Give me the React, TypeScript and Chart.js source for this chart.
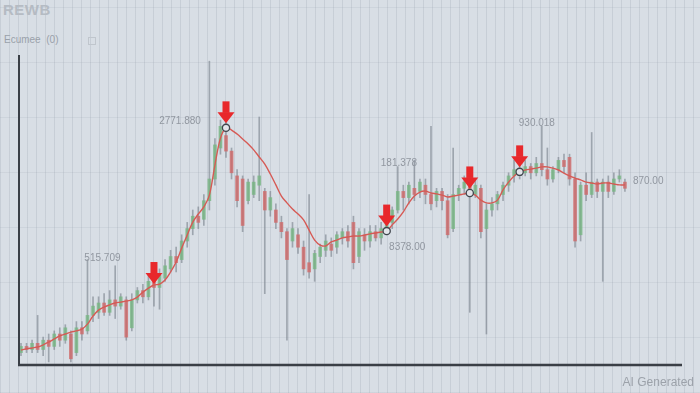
import React, { useEffect, useRef } from "react";
import { Chart, registerables } from "chart.js";
Chart.register(...registerables);

// candle data (value units 0..100)
const opens = [4,6,5,7,5,8,6,10,8,10,4,12,11,16,17,20,17,21,19,21,12,21,24,22,27,25,28,31,35,34,40,44,48,47,53,60,70,74,69,61,60,53,55,58,56,50,50,46,43,40,42,38,33,31,35,37,39,38,41,43,46,35,42,40,43,41,44,46,50,56,54,57,56,58,55,53,56,53,44,55,57,58,55,57,44,50,52,55,58,61,63,62,64,62,65,63,60,63,66,67,60,42,58,55,59,56,59,56,60,59];
const closes = [6,5,7,5,8,6,10,8,12,2,12,10,16,19,20,17,21,19,22,9,21,24,22,27,25,29,32,35,33,40,44,48,46,53,60,71,77,69,62,53,45,59,59,61,50,54,46,43,34,44,38,31,30,36,38,40,37,42,43,40,33,43,40,43,41,44,46,50,56,54,58,55,59,55,52,56,53,42,55,57,59,55,58,43,50,52,55,58,61,63,62,64,62,65,63,60,63,66,64,60,40,58,55,59,56,59,56,60,61,57];
const highs = [7,7,8,16,9,10,11,12,13,11,14,14,34,22,22,23,24,32,23,22,23,25,26,29,28,31,34,37,38,42,46,50,51,55,98,73,79,81,70,63,61,60,61,80,57,56,52,48,44,46,44,40,55,37,39,42,41,43,44,45,48,44,44,45,45,46,47,51,64,58,59,66,60,60,77,57,57,55,70,58,61,62,60,58,52,54,56,59,62,66,65,66,65,67,77,70,64,67,68,68,62,59,62,75,60,60,61,62,63,60];
const lows = [3,4,4,4,3,1,5,6,7,1,3,8,10,14,15,16,16,15,18,8,11,20,20,21,19,18,27,30,30,33,38,42,44,45,50,58,68,67,60,51,43,52,54,53,23,48,44,41,8,38,36,29,28,27,33,35,35,36,39,38,31,33,37,38,40,39,42,44,49,50,52,53,54,52,50,51,50,41,43,53,55,17,54,41,10,48,50,53,56,59,60,61,60,61,61,58,59,62,62,58,38,40,53,54,54,27,54,55,59,56];
// moving average line
const movingAvg = [4.8,5.2,5.5,5.8,6.5,7.4,8.4,9.4,10.0,10.6,11.0,11.6,13.2,15.8,17.7,18.7,19.4,20.0,20.3,20.6,21.0,21.9,23.5,24.8,25.8,26.1,27.4,30.0,33.2,37.7,41.9,46.1,48.7,51.0,54.8,64.5,73.2,76.5,75.8,74.5,72.9,71.3,69.4,67.1,64.8,61.6,58.1,54.5,52.3,50.3,48.7,46.8,43.5,40.3,38.7,38.4,39.7,40.3,41.0,41.3,41.6,41.6,41.9,42.3,42.6,42.9,43.2,45.2,47.1,49.4,52.3,54.5,55.8,56.1,55.5,55.2,54.8,54.2,54.5,54.8,55.2,55.5,54.8,53.2,52.3,52.3,53.2,56.5,59.0,61.0,62.3,62.9,63.2,63.5,63.9,63.9,63.5,62.9,61.9,61.0,60.3,59.7,59.0,58.7,58.4,58.7,58.7,58.4,58.1,58.1];

// markers
const arrowIdx = [24, 37, 66, 81, 90];
const circleIdx = [37, 66, 81, 90];
// price notes
const noteTexts = ["515.709", "2771.880", "181.378", "8378.00", "930.018", "870.00"];
const noteIdx = [14.7, 28.7, 68.2, 69.7, 93.1, 113.2];
const noteVals = [34.5, 78.5, 65.2, 38.0, 78.0, 59.4];

const GREEN = "rgba(118,182,130,0.78)";
const RED = "rgba(208,104,104,0.8)";

const markerPlugin = {
  id: "markers",
  afterDatasetsDraw(chart: any) {
    const { ctx, chartArea, scales } = chart;
    const xs = scales.x;
    const ys = scales.y;
    ctx.save();
    // axes
    ctx.strokeStyle = "#3a3f46";
    ctx.lineWidth = 2;
    ctx.beginPath();
    ctx.moveTo(chartArea.left, chartArea.top);
    ctx.lineTo(chartArea.left, chartArea.bottom);
    ctx.stroke();
    ctx.lineWidth = 2.5;
    ctx.beginPath();
    ctx.moveTo(chartArea.left - 1, chartArea.bottom);
    ctx.lineTo(chartArea.right, chartArea.bottom);
    ctx.stroke();

    // notes
    ctx.fillStyle = "#9197a0";
    ctx.font = "10px 'Liberation Sans', Arial, sans-serif";
    ctx.textAlign = "center";
    ctx.textBaseline = "middle";
    noteTexts.forEach((t, k) => {
      ctx.fillText(t, xs.getPixelForValue(noteIdx[k]), ys.getPixelForValue(noteVals[k]));
    });

    // circles
    circleIdx.forEach((i) => {
      const x = xs.getPixelForValue(i);
      const y = ys.getPixelForValue(movingAvg[i]);
      ctx.beginPath();
      ctx.arc(x, y, 3.6, 0, Math.PI * 2);
      ctx.fillStyle = "rgba(228,233,238,0.95)";
      ctx.fill();
      ctx.lineWidth = 1.3;
      ctx.strokeStyle = "#40464d";
      ctx.stroke();
    });

    // arrows
    ctx.fillStyle = "#e8282b";
    arrowIdx.forEach((i) => {
      const x = xs.getPixelForValue(i);
      const hasCircle = circleIdx.indexOf(i) >= 0;
      const tip = ys.getPixelForValue(movingAvg[i]) - (hasCircle ? 4.5 : 1);
      ctx.fillRect(x - 3.5, tip - 22, 7, 11.5);
      ctx.beginPath();
      ctx.moveTo(x - 8.5, tip - 11);
      ctx.lineTo(x + 8.5, tip - 11);
      ctx.lineTo(x, tip);
      ctx.closePath();
      ctx.fill();
    });
    ctx.restore();
  },
};

export default function App() {
  const ref = useRef<HTMLCanvasElement | null>(null);
  useEffect(() => {
    document.body.style.margin = "0";
    if (!ref.current) return;
    const chart = new Chart(ref.current, {
      type: "bar",
      data: {
        datasets: [
          {
            type: "line",
            data: movingAvg.map((v, i) => ({ x: i, y: v })),
            borderColor: "#d65a55",
            borderWidth: 1.4,
            pointRadius: 0,
            tension: 0.35,
            order: 0,
          } as any,
          {
            type: "bar",
            data: opens.map((o, i) => ({ x: i, y: [o, closes[i]] })),
            backgroundColor: opens.map((o, i) => (closes[i] >= o ? GREEN : RED)),
            barThickness: 3,
            grouped: false,
            order: 1,
          } as any,
          {
            type: "bar",
            data: highs.map((h, i) => ({ x: i, y: [lows[i], h] })),
            backgroundColor: "rgba(118,126,136,0.6)",
            barThickness: 1,
            grouped: false,
            order: 2,
          } as any,
        ],
      },
      options: {
        responsive: false,
        animation: false,
        layout: { padding: { left: 19, right: 18, top: 55, bottom: 28 } },
        scales: {
          x: { type: "linear", display: false, offset: false, min: -0.36, max: 119.3 },
          y: { display: false, min: 0, max: 100 },
        },
        plugins: { legend: { display: false }, tooltip: { enabled: false } },
      } as any,
      plugins: [markerPlugin],
    });
    return () => chart.destroy();
  }, []);

  return (
    <div
      style={{
        position: "relative",
        width: 700,
        height: 393,
        overflow: "hidden",
        backgroundColor: "#d8dee5",
        backgroundImage:
          "repeating-linear-gradient(90deg, rgba(140,150,163,0.22) 0px, rgba(140,150,163,0.22) 1px, transparent 1px, transparent 9px), repeating-linear-gradient(0deg, rgba(140,150,163,0.14) 0px, rgba(140,150,163,0.14) 1px, transparent 1px, transparent 55px)",
        fontFamily: "'Liberation Sans', Arial, sans-serif",
      }}
    >
      <div style={{ position: "absolute", left: 3, top: 1, fontSize: 15, fontWeight: 700, color: "#b5bbc3", letterSpacing: 0.5 }}>
        REWB
      </div>
      <div style={{ position: "absolute", left: 4, top: 34, fontSize: 10, color: "#9aa1aa" }}>
        Ecumee&nbsp;&nbsp;(0)
      </div>
      <div style={{ position: "absolute", left: 88, top: 37, width: 6, height: 6, border: "1px solid #c0c6cd" }} />
      <canvas ref={ref} width={700} height={393} style={{ position: "absolute", left: 0, top: 0 }} />
      <div style={{ position: "absolute", right: 6, bottom: 4, fontSize: 12, color: "#9ca2aa" }}>
        AI Generated
      </div>
    </div>
  );
}
